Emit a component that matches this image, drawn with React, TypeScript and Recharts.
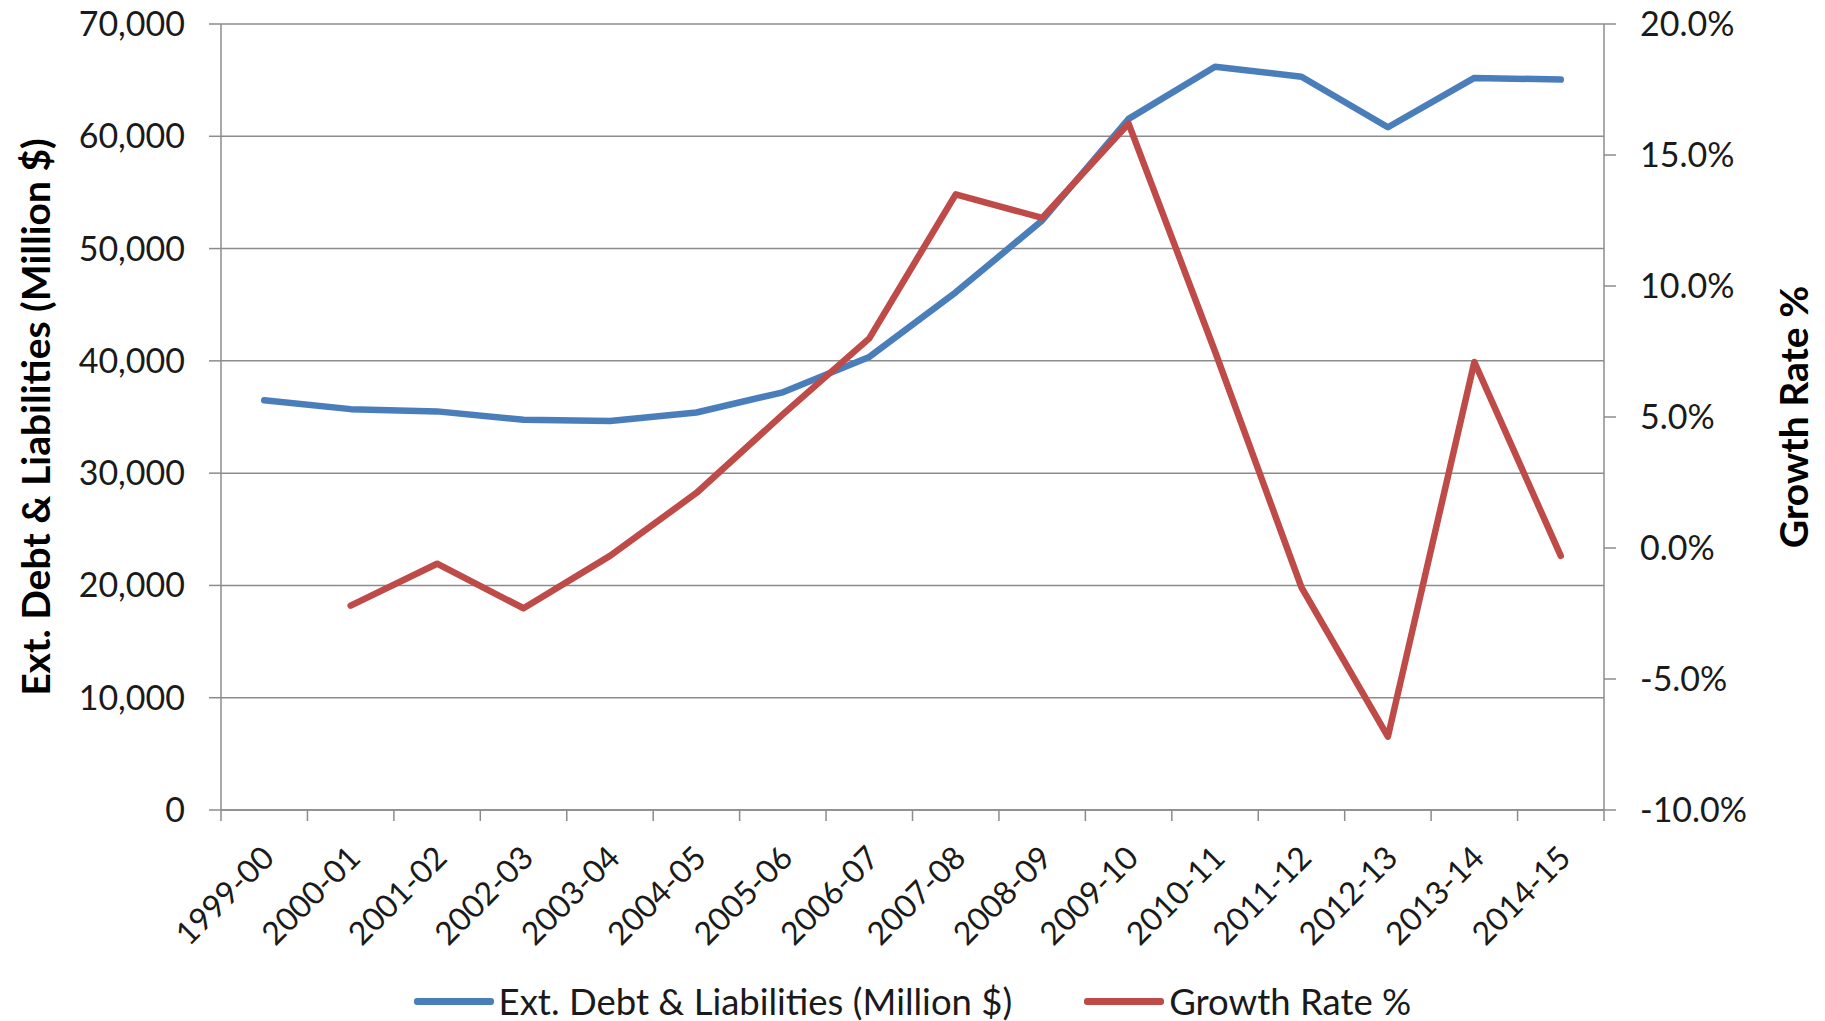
import React from 'react';
import { ComposedChart, Line, XAxis, YAxis, CartesianGrid, Legend } from 'recharts';

// Fiscal years on the category axis
const years = [
  '1999-00', '2000-01', '2001-02', '2002-03', '2003-04', '2004-05', '2005-06', '2006-07',
  '2007-08', '2008-09', '2009-10', '2010-11', '2011-12', '2012-13', '2013-14', '2014-15',
];

// External debt & liabilities, million US$
const debtMillions = [
  36500, 35700, 35500, 34750, 34650, 35400, 37200, 40350,
  46100, 52500, 61550, 66200, 65300, 60800, 65200, 65050,
];

// Year-on-year growth rate, percent (no prior year for 1999-00)
const growthPct = [
  null, -2.2, -0.6, -2.3, -0.3, 2.1, 5.1, 8.0,
  13.5, 12.6, 16.2, 7.5, -1.5, -7.2, 7.1, -0.3,
];

const debtTicks = [0, 10000, 20000, 30000, 40000, 50000, 60000, 70000];
const growthTicks = [-10, -5, 0, 5, 10, 15, 20];

const DEBT_LABEL = 'Ext. Debt & Liabilities (Million $)';
const GROWTH_LABEL = 'Growth Rate %';

const data = years.map((year, i) => ({
  year,
  debt: debtMillions[i],
  growth: growthPct[i],
}));

const FONT = 'Lato, "Open Sans", sans-serif';
const TEXT = '#1a1a1a';
const AXIS = '#8c8c8c';
const BLUE = '#4A7EBB';
const RED = '#BE4B48';
const Y_TICK_SIZE = 34;
const X_TICK_SIZE = 32;
const LEGEND_SIZE = 36.5;
const TITLE_SIZE = 39;
const LINE_WIDTH = 6.5;

const fmtDebt = (v: number) => v.toLocaleString('en-US');
const fmtGrowth = (v: number) => `${v.toFixed(1)}%`;

// Year label rotated 45°, plus tick marks on the band boundaries
function YearTick(props: any) {
  const { x, y, payload, index, visibleTicksCount, width } = props;
  const half = payload?.offset || width / visibleTicksCount / 2;
  const isLast = index === visibleTicksCount - 1;
  const ax = x + 3;
  const ay = y + 41;
  return (
    <g>
      <line x1={x - half} y1={y} x2={x - half} y2={y + 11} stroke={AXIS} strokeWidth={1.5} />
      {isLast && (
        <line x1={x + half} y1={y} x2={x + half} y2={y + 11} stroke={AXIS} strokeWidth={1.5} />
      )}
      <text
        x={ax}
        y={ay}
        transform={`rotate(-45, ${ax}, ${ay})`}
        textAnchor="end"
        dominantBaseline="central"
        fontFamily={FONT}
        fontSize={X_TICK_SIZE}
        fill={TEXT}
      >
        {payload.value}
      </text>
    </g>
  );
}

function AxisTitle(props: any) {
  const { viewBox, text, dx } = props;
  const cx = viewBox.x + dx;
  const cy = viewBox.y + viewBox.height / 2;
  return (
    <text
      x={cx}
      y={cy}
      transform={`rotate(-90, ${cx}, ${cy})`}
      textAnchor="middle"
      dominantBaseline="central"
      fontFamily={FONT}
      fontWeight={700}
      fontSize={TITLE_SIZE}
      fill="#000"
    >
      {text}
    </text>
  );
}

function LegendContent() {
  const items = [
    { label: DEBT_LABEL, color: BLUE },
    { label: GROWTH_LABEL, color: RED },
  ];
  return (
    <div
      style={{
        display: 'flex',
        justifyContent: 'center',
        alignItems: 'center',
        gap: 72,
        paddingTop: 9,
        fontFamily: FONT,
        fontSize: LEGEND_SIZE,
        color: TEXT,
        lineHeight: 1,
      }}
    >
      {items.map((it) => (
        <div key={it.label} style={{ display: 'flex', alignItems: 'center' }}>
          <span
            style={{
              display: 'inline-block',
              width: 80,
              height: LINE_WIDTH,
              borderRadius: 3,
              background: it.color,
              marginRight: 5,
            }}
          />
          <span>{it.label}</span>
        </div>
      ))}
    </div>
  );
}

export default function App() {
  return (
    <div style={{ position: 'absolute', left: 0, top: 0, background: '#fff' }}>
      <ComposedChart
        width={1825}
        height={1021}
        data={data}
        margin={{ top: 24, right: 0, bottom: 0, left: 0 }}
      >
        <CartesianGrid
          xAxisId="cat"
          yAxisId="left"
          vertical={false}
          stroke={AXIS}
          strokeWidth={1.5}
        />
        <XAxis
          xAxisId="cat"
          dataKey="year"
          type="category"
          scale="band"
          height={164}
          interval={0}
          tickSize={0}
          tickMargin={0}
          tickLine={false}
          axisLine={{ stroke: AXIS, strokeWidth: 1.5 }}
          tick={<YearTick />}
        />
        <YAxis
          yAxisId="left"
          width={221}
          domain={[0, 70000]}
          ticks={debtTicks}
          interval={0}
          tickFormatter={fmtDebt}
          tickSize={12}
          tickMargin={24}
          tickLine={{ stroke: AXIS, strokeWidth: 1.5 }}
          axisLine={{ stroke: AXIS, strokeWidth: 1.5 }}
          tick={{ fontFamily: FONT, fontSize: Y_TICK_SIZE, fill: TEXT }}
          label={<AxisTitle text={DEBT_LABEL} dx={35} />}
        />
        <YAxis
          yAxisId="right"
          orientation="right"
          width={221}
          domain={[-10, 20]}
          ticks={growthTicks}
          interval={0}
          tickFormatter={fmtGrowth}
          tickSize={12}
          tickMargin={24}
          tickLine={{ stroke: AXIS, strokeWidth: 1.5 }}
          axisLine={{ stroke: AXIS, strokeWidth: 1.5 }}
          tick={{ fontFamily: FONT, fontSize: Y_TICK_SIZE, fill: TEXT }}
          label={<AxisTitle text={GROWTH_LABEL} dx={189} />}
        />
        <Legend verticalAlign="bottom" height={47} content={<LegendContent />} />
        <Line
          xAxisId="cat"
          yAxisId="left"
          type="linear"
          dataKey="debt"
          name={DEBT_LABEL}
          stroke={BLUE}
          strokeWidth={LINE_WIDTH}
          strokeLinejoin="round"
          strokeLinecap="round"
          dot={false}
          activeDot={false}
          isAnimationActive={false}
        />
        <Line
          xAxisId="cat"
          yAxisId="right"
          type="linear"
          dataKey="growth"
          name={GROWTH_LABEL}
          stroke={RED}
          strokeWidth={LINE_WIDTH}
          strokeLinejoin="round"
          strokeLinecap="round"
          dot={false}
          activeDot={false}
          connectNulls={false}
          isAnimationActive={false}
        />
      </ComposedChart>
    </div>
  );
}
